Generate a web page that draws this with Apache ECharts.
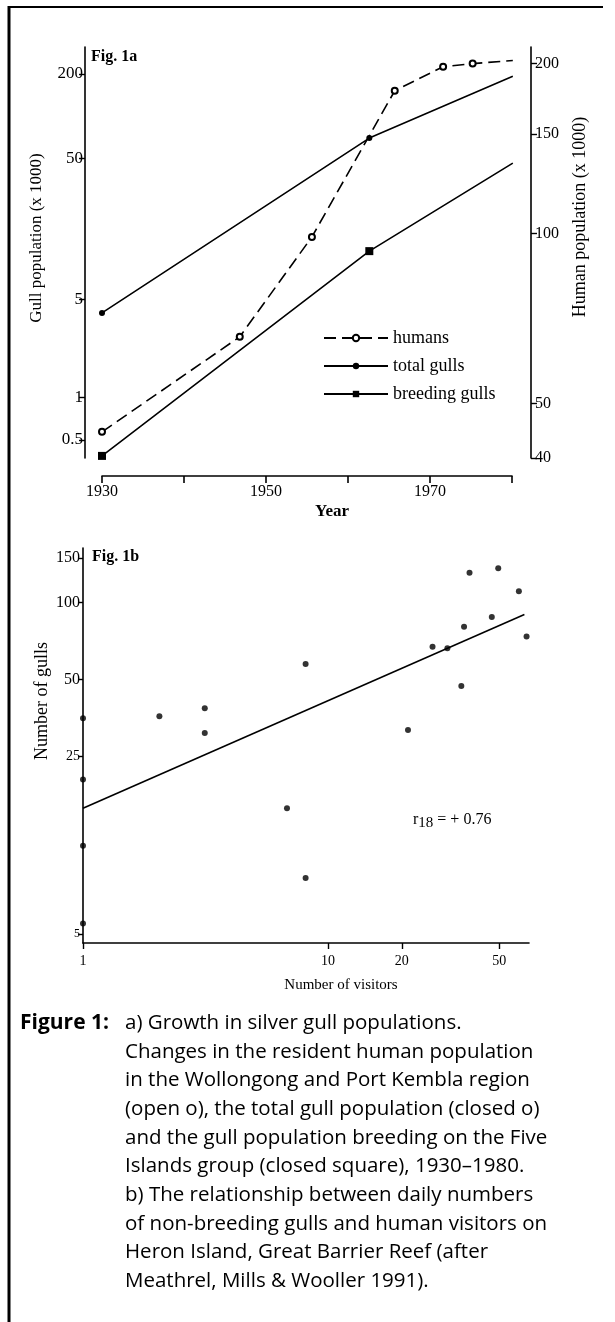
<!DOCTYPE html>
<html><head><meta charset="utf-8">
<script src="https://cdn.jsdelivr.net/npm/echarts@6/dist/echarts.min.js"></script>
<style>html,body{margin:0;padding:0;background:#fff}#c{width:615px;height:1322px}</style>
</head><body><div id="c"></div>
<script>
// ---- Fig. 1a data ----
const humanYears = [1930, 1946.8, 1955.6, 1965.7, 1971.6, 1975.2, 1980.1];
const humans = [44.5, 65.6, 98.6, 179, 197.5, 200, 202.5];          // x 1000 (right axis)
const gullYears = [1930, 1962.6, 1980.1];
const totalGulls = [4.0, 70, 193];                                  // x 1000 (left axis)
const breedingGulls = [0.385, 11.0, 46.5];                          // x 1000 (left axis)
const yearLabels = [1930, 1950, 1970];
const gullTicks = [0.5, 1, 5, 50, 200];
const humanTicks = [40, 50, 100, 150, 200];
// ---- Fig. 1b data ----
const visitors = [1, 1, 1, 1, 2.05, 3.14, 3.14, 6.8, 8.1, 8.1, 21.2, 26.7, 30.7, 35.0, 35.9, 37.8, 46.6, 49.5, 60.1, 64.6];
const gullCounts = [35.2, 20.2, 11.1, 5.5, 35.8, 38.5, 30.8, 15.6, 57.5, 8.3, 31.6, 67.1, 66.3, 47.1, 80.4, 131, 87.8, 136.5, 110.8, 73.7];
const fitVisitors = [1, 63.3];
const fitGulls = [15.6, 89.9];
const visitorTicks = [1, 10, 20, 50];
const countTicks = [5, 25, 50, 100, 150];
const captionLines = [
  'a) Growth in silver gull populations.',
  'Changes in the resident human population',
  'in the Wollongong and Port Kembla region',
  '(open o), the total gull population (closed o)',
  'and the gull population breeding on the Five',
  'Islands group (closed square), 1930\u20131980.',
  'b) The relationship between daily numbers',
  'of non-breeding gulls and human visitors on',
  'Heron Island, Great Barrier Reef (after',
  'Meathrel, Mills & Wooller 1991).'
];

const SERIF = '"Liberation Serif", "DejaVu Serif", serif';
const SANS = '"Open Sans", "Noto Sans", sans-serif';
const zip = (a, b) => a.map((v, i) => [v, b[i]]);
const axisLine = {show: true, lineStyle: {color: '#000', width: 1.6}};
const lbl = (extra) => Object.assign({color: '#000', fontFamily: SERIF, fontSize: 16}, extra);

const chart = echarts.init(document.getElementById('c'), null, {renderer: 'canvas'});
const graphics = [
  {type: 'line', shape: {x1: 9, y1: 6, x2: 9, y2: 1322}, style: {stroke: '#000', lineWidth: 3}},
  {type: 'line', shape: {x1: 9, y1: 7, x2: 603, y2: 7}, style: {stroke: '#000', lineWidth: 2}},
  {type: 'text', x: 91, y: 57, style: {text: 'Fig. 1a', font: 'bold 16px ' + SERIF, fill: '#000', textVerticalAlign: 'middle'}},
  {type: 'text', x: 92, y: 557, style: {text: 'Fig. 1b', font: 'bold 16px ' + SERIF, fill: '#000', textVerticalAlign: 'middle'}},
  {type: 'text', x: 37, y: 238, rotation: Math.PI / 2, style: {text: 'Gull population (x 1000)', font: '17px ' + SERIF, fill: '#000', textAlign: 'center', textVerticalAlign: 'middle'}},
  {type: 'text', x: 580, y: 217, rotation: Math.PI / 2, style: {text: 'Human population (x 1000)', font: '18px ' + SERIF, fill: '#000', textAlign: 'center', textVerticalAlign: 'middle'}},
  {type: 'text', x: 332, y: 512, style: {text: 'Year', font: 'bold 17px ' + SERIF, fill: '#000', textAlign: 'center', textVerticalAlign: 'middle'}},
  {type: 'text', x: 42, y: 701, rotation: Math.PI / 2, style: {text: 'Number of gulls', font: '18px ' + SERIF, fill: '#000', textAlign: 'center', textVerticalAlign: 'middle'}},
  {type: 'text', x: 341, y: 985, style: {text: 'Number of visitors', font: '15px ' + SERIF, fill: '#000', textAlign: 'center', textVerticalAlign: 'middle'}},
  {type: 'text', x: 413, y: 820, style: {
    text: '{a|r}{b|18}{a| = + 0.76}', textVerticalAlign: 'middle',
    rich: {a: {fontFamily: SERIF, fontSize: 16, fill: '#000'}, b: {fontFamily: SERIF, fontSize: 15, fill: '#000', padding: [6, 0, 0, 0]}}
  }},
  {type: 'text', x: 20, y: 1023, style: {text: 'Figure 1:', font: 'bold 21px ' + SANS, fill: '#000', textVerticalAlign: 'middle'}}
];
captionLines.forEach((t, i) => {
  graphics.push({type: 'text', x: 125, y: 1023 + i * 28.7, style: {text: t, font: '20.5px ' + SANS, fill: '#000', textVerticalAlign: 'middle'}});
});

chart.setOption({
  animation: false,
  backgroundColor: '#fff',
  grid: [
    {left: 102, top: 47, width: 410, height: 411},
    {left: 83, top: 548, width: 446, height: 395}
  ],
  legend: {
    data: ['humans', 'total gulls', 'breeding gulls'],
    orient: 'vertical', left: 323, top: 329, padding: 0,
    itemWidth: 64, itemHeight: 8, itemGap: 10,
    textStyle: {color: '#000', fontFamily: SERIF, fontSize: 18}
  },
  xAxis: [
    {type: 'value', gridIndex: 0, min: 1930, max: 1980, interval: 10, offset: 18,
     axisLine: axisLine, axisTick: {show: true, length: 7, lineStyle: {color: '#000', width: 1.6}},
     axisLabel: lbl({margin: 8, formatter: v => yearLabels.includes(v) ? String(v) : ''}),
     splitLine: {show: false}},
    {type: 'log', gridIndex: 1, min: 1, max: 66.1, logBase: 10,
     axisLine: axisLine, axisTick: {show: true, length: 6, customValues: visitorTicks, lineStyle: {color: '#000', width: 1.4}},
     axisLabel: lbl({fontSize: 14, margin: 11, customValues: visitorTicks, formatter: v => String(Math.round(v))}),
     splitLine: {show: false}}
  ],
  yAxis: [
    {type: 'log', gridIndex: 0, position: 'left', min: 0.372, max: 311, logBase: 10, offset: 17,
     axisLine: axisLine, axisTick: {show: true, length: 6, customValues: gullTicks, lineStyle: {color: '#000', width: 1.4}},
     axisLabel: lbl({fontSize: 17, margin: 2, customValues: gullTicks, formatter: v => String(+v.toPrecision(3))}),
     splitLine: {show: false}},
    {type: 'log', gridIndex: 0, position: 'right', min: 40, max: 214, logBase: 10, offset: 19,
     axisLine: axisLine, axisTick: {show: true, length: 6, customValues: humanTicks, lineStyle: {color: '#000', width: 1.4}},
     axisLabel: lbl({margin: 4, customValues: humanTicks, formatter: v => String(Math.round(v))}),
     splitLine: {show: false}},
    {type: 'log', gridIndex: 1, position: 'left', min: 4.61, max: 164, logBase: 10,
     axisLine: axisLine, axisTick: {show: true, length: 5, customValues: countTicks, lineStyle: {color: '#000', width: 1.4}},
     axisLabel: lbl({margin: 3, customValues: countTicks,
       formatter: v => { const n = Math.round(v); return n >= 50 ? '{b|' + n + '}' : (n >= 25 ? '{m|' + n + '}' : '{s|' + n + '}'); },
       rich: {b: {fontFamily: SERIF, fontSize: 16, color: '#000'}, m: {fontFamily: SERIF, fontSize: 14, color: '#000'}, s: {fontFamily: SERIF, fontSize: 12, color: '#000'}}}),
     splitLine: {show: false}}
  ],
  series: [
    {name: 'humans', type: 'line', xAxisIndex: 0, yAxisIndex: 1, data: zip(humanYears, humans),
     symbol: 'emptyCircle', symbolSize: 6, lineStyle: {color: '#000', width: 1.6, type: [12, 6]},
     itemStyle: {color: '#000', borderColor: '#000', borderWidth: 1.3}},
    {name: 'total gulls', type: 'line', xAxisIndex: 0, yAxisIndex: 0, data: zip(gullYears, totalGulls),
     symbol: 'circle', symbolSize: 6, lineStyle: {color: '#000', width: 1.6}, itemStyle: {color: '#000'}},
    {name: 'breeding gulls', type: 'line', xAxisIndex: 0, yAxisIndex: 0, data: zip(gullYears, breedingGulls),
     symbol: 'rect', symbolSize: 8, lineStyle: {color: '#000', width: 1.6}, itemStyle: {color: '#000'}},
    {name: 'gulls vs visitors', type: 'scatter', xAxisIndex: 1, yAxisIndex: 2, data: zip(visitors, gullCounts),
     symbol: 'circle', symbolSize: 6, itemStyle: {color: '#000'}},
    {name: 'fit', type: 'line', xAxisIndex: 1, yAxisIndex: 2, data: zip(fitVisitors, fitGulls),
     symbol: 'none', lineStyle: {color: '#000', width: 1.6}}
  ],
  graphic: graphics
});
</script></body></html>
